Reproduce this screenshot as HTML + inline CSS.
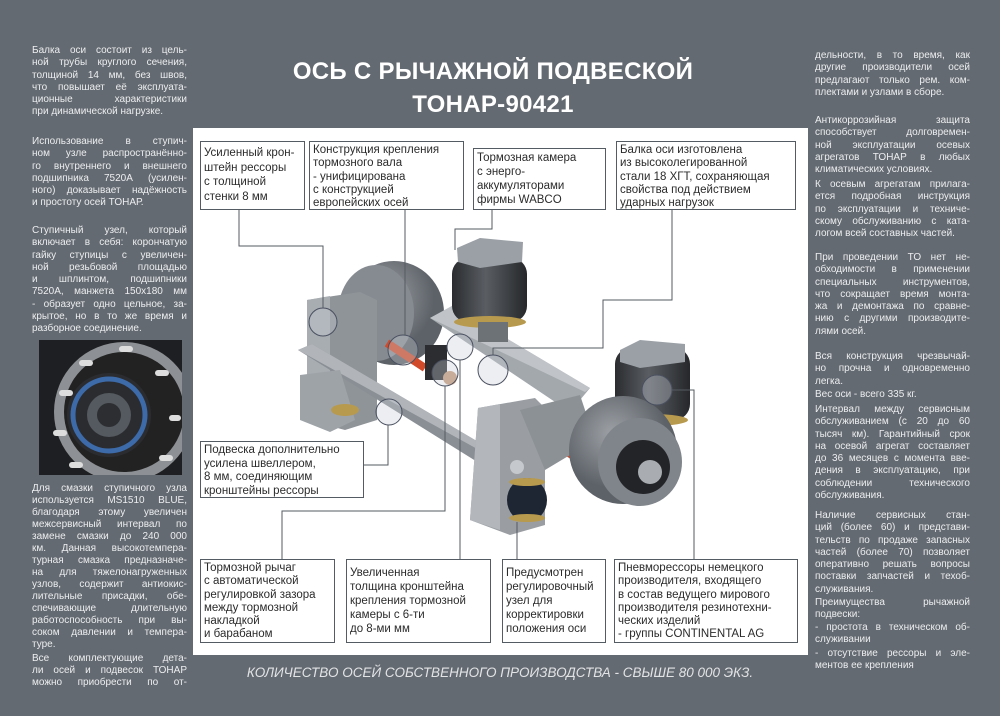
<!DOCTYPE html>
<html><head><meta charset="utf-8"><style>
*{margin:0;padding:0;box-sizing:border-box}
body{width:1000px;height:716px;background:#646a71;position:relative;overflow:hidden;font-family:"Liberation Sans","DejaVu Sans",sans-serif}
.col{position:absolute;width:155px;color:#eceef0;font-size:10px;line-height:12.3px}
.col div{white-space:nowrap}
.j{text-align:justify;text-align-last:justify;white-space:normal!important}
.title{position:absolute;left:0;width:986px;text-align:center;color:#fff;font-weight:bold;font-size:24px;letter-spacing:0.3px}
.panel{position:absolute;left:193px;top:128px;width:615px;height:527px;background:#fff}
.box{position:absolute;border:1px solid #555b62;background:#fff;font-size:11.5px;line-height:13.3px;color:#2b2b2b;padding:2px 3px;white-space:nowrap;overflow:hidden}
.foot{position:absolute;left:200px;width:600px;top:665px;text-align:center;font-style:italic;color:#e2e4e6;font-size:13.5px}
</style></head><body>
<div class="title" style="top:58px">ОСЬ С РЫЧАЖНОЙ ПОДВЕСКОЙ</div>
<div class="title" style="top:91px">ТОНАР-90421</div>

<div class="col" style="left:32px;top:45px">
<div class="j">Балка оси состоит из цель-</div><div class="j">ной трубы круглого сечения,</div><div class="j">толщиной 14 мм, без швов,</div><div class="j">что повышает её эксплуата-</div><div class="j">ционные характеристики</div><div>при динамической нагрузке.</div></div>
<div class="col" style="left:32px;top:136px">
<div class="j">Использование в ступич-</div><div class="j">ном узле распространённо-</div><div class="j">го внутреннего и внешнего</div><div class="j">подшипника 7520А (усилен-</div><div class="j">ного) доказывает надёжность</div><div>и простоту осей ТОНАР.</div></div>
<div class="col" style="left:32px;top:225px">
<div class="j">Ступичный узел, который</div><div class="j">включает в себя: корончатую</div><div class="j">гайку ступицы с увеличен-</div><div class="j">ной резьбовой площадью</div><div class="j">и шплинтом, подшипники</div><div class="j">7520А, манжета 150х180 мм</div><div class="j">- образует одно цельное, за-</div><div class="j">крытое, но в то же время и</div><div>разборное соединение.</div></div>

<svg style="position:absolute;left:39px;top:340px" width="143" height="135" viewBox="0 0 143 135">
<rect width="143" height="135" fill="#1e1f22"/>
<circle cx="85" cy="72" r="70" fill="#8d9094"/>
<circle cx="85" cy="72" r="60" fill="#222"/>
<circle cx="70" cy="75" r="42" fill="#2a2c30"/>
<circle cx="70" cy="75" r="36" fill="none" stroke="#3d6aa8" stroke-width="5"/>
<circle cx="70" cy="75" r="22" fill="#555a60"/>
<circle cx="70" cy="75" r="12" fill="#2c2e31"/>
<g fill="#ddd"><rect x="40" y="20" width="14" height="6" rx="3"/><rect x="80" y="6" width="14" height="6" rx="3"/><rect x="116" y="30" width="14" height="6" rx="3"/><rect x="130" y="75" width="12" height="6" rx="3"/><rect x="20" y="50" width="14" height="6" rx="3"/><rect x="14" y="90" width="14" height="6" rx="3"/><rect x="30" y="122" width="14" height="6" rx="3"/><rect x="120" y="115" width="14" height="6" rx="3"/></g>
</svg>

<div class="col" style="left:32px;top:483px;line-height:12px">
<div class="j">Для смазки ступичного узла</div><div class="j">используется MS1510 BLUE,</div><div class="j">благодаря этому увеличен</div><div class="j">межсервисный интервал по</div><div class="j">замене смазки до 240 000</div><div class="j">км. Данная высокотемпера-</div><div class="j">турная смазка предназначе-</div><div class="j">на для тяжелонагруженных</div><div class="j">узлов, содержит антиокис-</div><div class="j">лительные присадки, обе-</div><div class="j">спечивающие длительную</div><div class="j">работоспособность при вы-</div><div class="j">соком давлении и темпера-</div><div>туре.</div></div>
<div class="col" style="left:32px;top:653px;line-height:12px">
<div class="j">Все комплектующие дета-</div><div class="j">ли осей и подвесок ТОНАР</div><div class="j">можно приобрести по от-</div></div>

<div class="col" style="left:815px;top:50px">
<div class="j">дельности, в то время, как</div><div class="j">другие производители осей</div><div class="j">предлагают только рем. ком-</div><div>плектами и узлами в сборе.</div></div>
<div class="col" style="left:815px;top:115px">
<div class="j">Антикоррозийная защита</div><div class="j">способствует долговремен-</div><div class="j">ной эксплуатации осевых</div><div class="j">агрегатов ТОНАР в любых</div><div>климатических условиях.</div></div>
<div class="col" style="left:815px;top:179px">
<div class="j">К осевым агрегатам прилага-</div><div class="j">ется подробная инструкция</div><div class="j">по эксплуатации и техниче-</div><div class="j">скому обслуживанию с ката-</div><div>логом всей составных частей.</div></div>
<div class="col" style="left:815px;top:252px">
<div class="j">При проведении ТО нет не-</div><div class="j">обходимости в применении</div><div class="j">специальных инструментов,</div><div class="j">что сокращает время монта-</div><div class="j">жа и демонтажа по сравне-</div><div class="j">нию с другими производите-</div><div>лями осей.</div></div>
<div class="col" style="left:815px;top:351px">
<div class="j">Вся конструкция чрезвычай-</div><div class="j">но прочна и одновременно</div><div>легка.</div></div>
<div class="col" style="left:815px;top:389px"><div>Вес оси - всего 335 кг.</div></div>
<div class="col" style="left:815px;top:404px">
<div class="j">Интервал между сервисным</div><div class="j">обслуживанием (с 20 до 60</div><div class="j">тысяч км). Гарантийный срок</div><div class="j">на осевой агрегат составляет</div><div class="j">до 36 месяцев с момента вве-</div><div class="j">дения в эксплуатацию, при</div><div class="j">соблюдении технического</div><div>обслуживания.</div></div>
<div class="col" style="left:815px;top:510px">
<div class="j">Наличие сервисных стан-</div><div class="j">ций (более 60) и представи-</div><div class="j">тельств по продаже запасных</div><div class="j">частей (более 70) позволяет</div><div class="j">оперативно решать вопросы</div><div class="j">поставки запчастей и техоб-</div><div>служивания.</div></div>
<div class="col" style="left:815px;top:597px">
<div class="j">Преимущества рычажной</div><div>подвески:</div></div>
<div class="col" style="left:815px;top:622px">
<div class="j">- простота в техническом об-</div><div>служивании</div></div>
<div class="col" style="left:815px;top:648px">
<div class="j">- отсутствие рессоры и эле-</div><div>ментов ее крепления</div></div>

<div class="panel"></div>

<svg style="position:absolute;left:0;top:0" width="1000" height="716">
<defs>
<linearGradient id="sp" x1="0" x2="1"><stop offset="0" stop-color="#2a2c2f"/><stop offset=".45" stop-color="#5a5e63"/><stop offset="1" stop-color="#25272a"/></linearGradient>
<radialGradient id="dr" cx=".4" cy=".35"><stop offset="0" stop-color="#9ea2a7"/><stop offset="1" stop-color="#5d6268"/></radialGradient>
</defs>
<ellipse cx="394" cy="313" rx="50" ry="52" fill="url(#dr)"/>
<ellipse cx="376" cy="313" rx="38" ry="48" fill="#868b91"/>
<polygon points="307,300 360,292 377,300 377,420 345,430 307,420" fill="#8f9499"/>
<polygon points="307,300 330,296 330,428 307,420" fill="#a8adb2"/>
<polygon points="430,318 452,306 590,388 570,412" fill="#a3a8ad"/>
<polygon points="430,318 452,306 590,388 585,392" fill="#c0c4c8"/>
<line x1="387" y1="343" x2="425" y2="368" stroke="#d14a2a" stroke-width="8"/>
<line x1="553" y1="443" x2="575" y2="457" stroke="#d14a2a" stroke-width="8"/>
<rect x="425" y="345" width="22" height="35" fill="#2c2d30"/>
<circle cx="450" cy="378" r="7" fill="#c79a7a"/>
<rect x="452" y="258" width="75" height="64" rx="16" fill="url(#sp)"/>
<ellipse cx="490" cy="322" rx="36" ry="6" fill="#b89a4e"/>
<polygon points="457,248 480,238 523,242 522,262 480,268 458,262" fill="#9aa0a6"/>
<rect x="478" y="322" width="30" height="20" fill="#6d7277"/>
<polygon points="298,350 312,344 492,450 487,468" fill="#8a8f95"/>
<polygon points="298,350 312,344 492,450 490,456" fill="#b1b5ba"/>
<polygon points="300,375 340,370 355,420 330,432 300,420" fill="#9ea3a8"/>
<ellipse cx="345" cy="410" rx="14" ry="6" fill="#b89a4e"/>
<rect x="615" y="348" width="75" height="72" rx="16" fill="url(#sp)"/>
<ellipse cx="652" cy="420" rx="36" ry="6" fill="#b89a4e"/>
<polygon points="620,350 640,340 685,344 685,362 640,368 620,362" fill="#9aa0a6"/>
<polygon points="478,408 535,398 545,408 545,525 510,535 470,520" fill="#9a9ea3"/>
<polygon points="478,408 500,404 500,530 470,520" fill="#b3b7bb"/>
<polygon points="520,410 580,395 595,440 545,470" fill="#8c9196"/>
<ellipse cx="527" cy="500" rx="20" ry="22" fill="#1f2633"/>
<ellipse cx="527" cy="482" rx="18" ry="4" fill="#b89a4e"/>
<ellipse cx="527" cy="518" rx="18" ry="4" fill="#b89a4e"/>
<circle cx="517" cy="467" r="7" fill="#c5c8cc"/>
<ellipse cx="623" cy="450" rx="54" ry="54" fill="url(#dr)"/>
<ellipse cx="640" cy="462" rx="42" ry="44" fill="#80858b"/>
<circle cx="643" cy="467" r="27" fill="#232427"/>
<circle cx="650" cy="472" r="12" fill="#a9adb2"/>
<g fill="rgba(200,205,215,.35)" stroke="#4a5060" stroke-width="1">
<circle cx="323" cy="322" r="14"/><circle cx="403" cy="350" r="15"/><circle cx="445" cy="373" r="13"/>
<circle cx="460" cy="347" r="13"/><circle cx="493" cy="370" r="15"/><circle cx="389" cy="412" r="13"/>
<circle cx="657" cy="390" r="15"/>
</g>
<g fill="none" stroke="#555b62" stroke-width="1">
<polyline points="239,210 239,246 323,246 323,308"/>
<polyline points="405,210 405,335"/>
<polyline points="492,210 492,229 455,229 455,250"/>
<polyline points="672,210 672,300 603,300 603,348 493,348 493,355"/>
<polyline points="364,465 388,465 388,425"/>
<polyline points="282,559 282,511 445,511 445,386"/>
<polyline points="460,559 460,360"/>
<polyline points="517,559 517,522"/>
<polyline points="694,559 694,390 672,390"/>
</g>
</svg>

<div class="box" style="left:200px;top:141px;width:105px;height:69px;padding-top:4px;line-height:14.5px">Усиленный крон-<br>штейн рессоры<br>с толщиной<br>стенки 8 мм</div>
<div class="box" style="left:309px;top:141px;width:155px;height:69px">Конструкция крепления<br>тормозного вала<br>- унифицирована<br>с конструкцией<br>европейских осей</div>
<div class="box" style="left:473px;top:148px;width:133px;height:62px;padding-top:2px;line-height:14px">Тормозная камера<br>с энерго-<br>аккумуляторами<br>фирмы WABCO</div>
<div class="box" style="left:616px;top:141px;width:180px;height:69px">Балка оси изготовлена<br>из высоколегированной<br>стали 18 ХГТ, сохраняющая<br>свойства под действием<br>ударных нагрузок</div>
<div class="box" style="left:200px;top:441px;width:164px;height:57px;line-height:13.5px">Подвеска дополнительно<br>усилена швеллером,<br>8 мм, соединяющим<br>кронштейны рессоры</div>
<div class="box" style="left:200px;top:559px;width:135px;height:84px">Тормозной рычаг<br>с автоматической<br>регулировкой зазора<br>между тормозной<br>накладкой<br>и барабаном</div>
<div class="box" style="left:346px;top:559px;width:145px;height:84px;padding-top:6px;line-height:14px">Увеличенная<br>толщина кронштейна<br>крепления тормозной<br>камеры с 6-ти<br>до 8-ми мм</div>
<div class="box" style="left:502px;top:559px;width:104px;height:84px;padding-top:6px;line-height:14px">Предусмотрен<br>регулировочный<br>узел для<br>корректировки<br>положения оси</div>
<div class="box" style="left:614px;top:559px;width:184px;height:84px">Пневморессоры немецкого<br>производителя, входящего<br>в состав ведущего мирового<br>производителя резинотехни-<br>ческих изделий<br>- группы CONTINENTAL AG</div>

<div class="foot">КОЛИЧЕСТВО ОСЕЙ СОБСТВЕННОГО ПРОИЗВОДСТВА - СВЫШЕ 80 000 ЭКЗ.</div>
</body></html>
